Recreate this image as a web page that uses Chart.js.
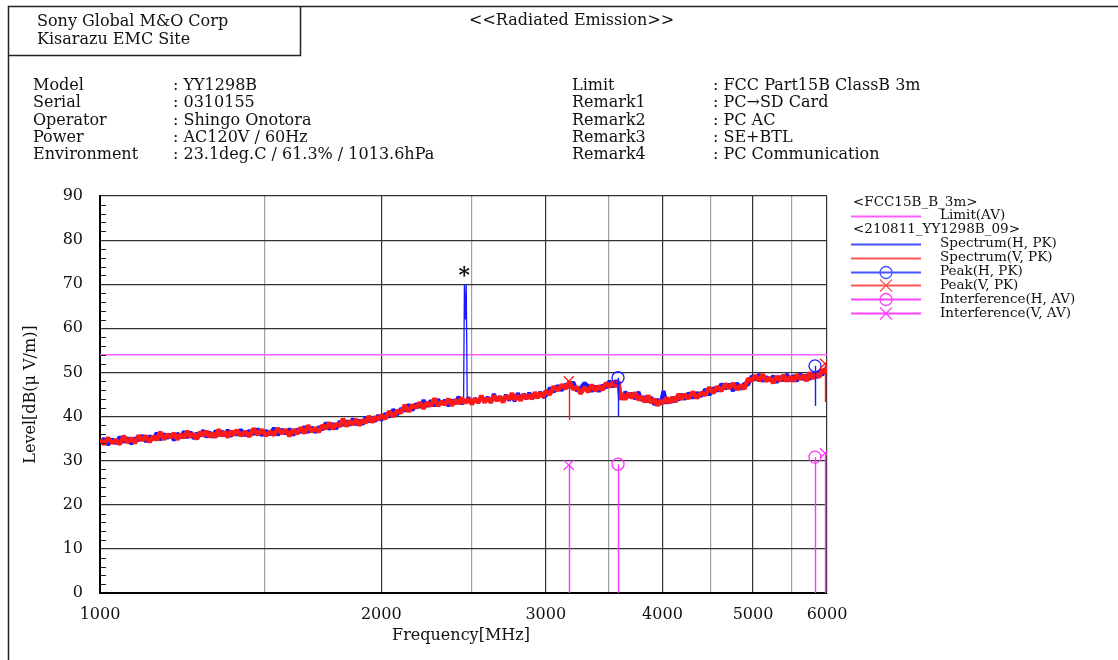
<!DOCTYPE html>
<html>
<head>
<meta charset="utf-8">
<script src="https://cdn.jsdelivr.net/npm/chart.js@4/dist/chart.umd.min.js"></script>
<style>
  html, body { margin: 0; padding: 0; background: #fff; }
  canvas { display: block; }
</style>
</head>
<body>
<canvas id="emiChart" width="1118" height="660"></canvas>
<script>
// sweep frequencies [MHz]
const freqMHz = [
  1000,1010,1020,1030,1040,1050,1060,1070,1080,1090,
  1100,1110,1120,1130,1140,1150,1160,1170,1180,1190,
  1200,1210,1220,1230,1240,1250,1260,1270,1280,1290,
  1300,1310,1320,1330,1340,1350,1360,1370,1380,1390,
  1400,1415,1430,1445,1460,1475,1490,1505,1520,1535,
  1550,1565,1580,1595,1610,1625,1640,1655,1670,1685,
  1700,1715,1730,1745,1760,1775,1790,1805,1820,1835,
  1850,1865,1880,1895,1910,1925,1940,1955,1970,1985,
  2000,2020,2040,2060,2080,2100,2120,2140,2160,2180,
  2200,2220,2240,2260,2280,2300,2320,2340,2360,2380,
  2400,2420,2440,2450,2455,2460,2466,2472,2480,2500,
  2520,2540,2560,2580,2600,2620,2640,2660,2680,2700,
  2720,2740,2760,2780,2800,2820,2840,2860,2880,2900,
  2920,2940,2960,2980,
  3000,3030,3060,3090,3120,3150,3180,3210,3240,3270,
  3300,3330,3360,3390,3420,3450,3480,3510,3540,3570,
  3590,3605,3620,3650,3680,3710,3740,3770,3800,3830,
  3860,3890,3920,3950,3980,4010,4040,4070,4100,4130,
  4160,4190,
  4220,4265,4310,4355,4400,4445,4490,4535,4580,4625,
  4670,4715,4760,4805,4850,4895,4940,4985,5030,5075,
  5120,5165,5210,5255,5300,5345,5390,5435,5480,5525,
  5570,5615,5660,5705,5750,5795,5840,5885,5930,5975,
  6000
];

// Spectrum(H, PK) [dBuV/m]
const levelH = [
  34.0,35.0,33.6,34.9,33.9,35.4,34.2,35.2,33.8,35.1,
  34.6,35.7,34.3,35.6,34.8,36.3,34.7,36.1,35.1,36.0,
  34.6,36.2,35.2,36.6,35.2,36.5,35.0,36.2,35.6,36.9,
  35.3,36.5,35.3,36.8,35.7,36.7,35.6,37.0,35.5,36.6,
  35.8,37.0,35.7,36.8,36.0,37.2,35.7,36.8,35.9,37.4,
  35.8,37.1,36.1,37.2,35.8,37.1,36.4,37.7,36.4,37.6,
  36.4,37.7,37.0,38.6,37.1,38.4,37.2,38.9,38.0,39.0,
  38.0,39.5,38.1,39.2,38.2,39.9,38.8,39.8,38.9,40.3,
  39.2,40.7,39.9,41.6,40.4,41.8,41.3,42.7,41.4,42.9,
  42.1,43.7,42.3,43.6,42.4,43.9,42.8,43.7,42.4,43.7,
  42.9,44.5,42.8,43.6,70.0,62.0,69.8,44.0,44.2,43.2,
  44.1,43.1,44.6,43.5,44.4,43.2,45.1,43.6,44.5,43.5,
  44.9,43.7,44.6,43.5,45.3,44.0,45.0,44.0,45.4,44.0,
  44.9,44.3,45.6,44.4,
  44.7,46.5,45.6,47.0,45.9,47.3,46.7,47.8,45.8,46.5,
  47.6,46.9,45.7,46.9,45.7,47.1,46.5,48.1,46.7,48.2,
  47.2,44.9,43.9,45.6,44.4,45.3,44.0,45.6,43.6,44.5,
  43.4,44.4,42.7,43.9,42.7,45.8,43.0,44.0,43.3,44.4,
  43.7,45.1,
  43.9,45.3,44.2,45.4,44.6,46.2,44.9,46.5,45.8,47.4,
  46.3,47.3,45.8,47.6,46.2,47.5,47.2,49.2,48.3,49.6,
  48.0,49.0,48.2,49.2,47.7,49.1,48.1,49.6,48.1,49.3,
  48.0,49.7,48.4,49.4,48.4,49.9,48.8,50.2,49.4,50.9,
  50.3
];

// Spectrum(V, PK) [dBuV/m]
const levelV = [
  34.8,33.7,35.2,34.0,34.7,33.7,35.6,34.1,35.1,34.0,
  35.7,34.6,35.6,34.2,35.5,34.7,36.5,34.8,35.9,35.3,
  36.2,34.8,36.0,35.2,36.7,35.4,36.1,34.9,36.5,35.6,
  36.7,35.4,36.2,35.3,37.1,35.6,36.5,35.3,36.7,35.8,
  36.9,35.7,36.6,35.5,37.3,35.9,37.0,35.7,36.6,35.8,
  37.3,36.2,37.0,35.6,37.0,36.1,37.5,36.2,38.0,36.6,
  37.4,36.5,38.0,37.3,38.6,37.2,38.4,37.7,39.5,37.8,
  39.0,38.2,39.4,38.0,39.2,38.6,40.1,38.7,39.9,39.3,
  40.3,39.5,41.2,40.0,41.3,40.9,42.6,41.1,42.6,42.0,
  43.2,41.8,43.2,42.4,44.1,42.4,43.4,42.7,44.0,42.5,
  43.8,43.0,44.3,42.9,43.8,42.9,44.0,43.1,44.1,42.8,
  44.0,43.2,44.7,43.2,44.1,43.2,44.7,43.6,44.5,43.2,
  44.7,43.9,45.3,43.8,44.7,43.6,45.1,44.1,44.8,44.0,
  45.5,44.2,45.4,44.5,
  45.8,45.0,46.8,45.9,47.2,46.3,47.9,46.2,46.7,45.2,
  46.6,45.6,47.2,45.8,46.9,46.0,47.6,46.7,47.8,46.8,
  48.0,43.8,45.2,43.9,45.3,44.2,45.4,43.8,44.5,43.3,
  44.8,43.1,44.0,42.5,43.6,43.0,44.3,43.1,44.4,43.3,
  45.1,43.9,
  45.0,44.1,45.6,44.2,45.4,44.9,46.6,45.3,46.8,45.8,
  47.4,46.4,47.5,46.1,47.1,46.3,48.6,48.1,49.3,48.1,
  49.6,48.0,48.8,47.6,49.1,48.1,49.4,48.0,49.1,48.0,
  49.5,48.5,49.4,48.1,50.0,48.6,49.7,48.9,50.7,49.9,
  51.2
];

// Limit(AV)
const limitFreq = [1000, 6000];
const limitLevel = [54, 54];

// Peak markers (level, and foot of the marker line)
const peakHFreq = [3585, 5825];
const peakHLevel = [48.8, 51.5];
const peakHFoot = [40.0, 42.4];
const peakVFreq = [3175, 5970];
const peakVLevel = [48.0, 52.0];
const peakVFoot = [39.2, 43.3];

// Interference markers (stems from 0 dB)
const interfHFreq = [3585, 5825];
const interfHLevel = [29.2, 30.8];
const interfVFreq = [3175, 5970];
const interfVLevel = [29.0, 31.7];

// "*" over the 2.4 GHz carrier
const starFreq = 2460;
const starLevel = 70;

const xTickValues = [1000, 1500, 2000, 2500, 3000, 3500, 4000, 4500, 5000, 5500, 6000];
const xTickLabels = [1000, 2000, 3000, 4000, 5000, 6000];
const yMin = 0, yMax = 90, yStep = 10, yMinorStep = 2;

const headerLeft = [
  ['Model', ': YY1298B'],
  ['Serial', ': 0310155'],
  ['Operator', ': Shingo Onotora'],
  ['Power', ': AC120V / 60Hz'],
  ['Environment', ': 23.1deg.C / 61.3% / 1013.6hPa']
];
const headerRight = [
  ['Limit', ': FCC Part15B ClassB 3m'],
  ['Remark1', ': PC\u2192SD Card'],
  ['Remark2', ': PC AC'],
  ['Remark3', ': SE+BTL'],
  ['Remark4', ': PC Communication']
];

const BLUE = '#1a1aff';
const RED = '#ff1a1a';
const MAGENTA = '#ff33ff';
const FONT = '"DejaVu Serif", "Liberation Serif", serif';

const legendRows = [
  { head: '<FCC15B_B_3m>' },
  { label: 'Limit(AV)', color: '#ff5cff' },
  { head: '<210811_YY1298B_09>' },
  { label: 'Spectrum(H, PK)', color: '#4455ff' },
  { label: 'Spectrum(V, PK)', color: '#ff5555' },
  { label: 'Peak(H, PK)', color: '#4455ff', mark: 'circle' },
  { label: 'Peak(V, PK)', color: '#ff5555', mark: 'x' },
  { label: 'Interference(H, AV)', color: '#ff44ff', mark: 'circle' },
  { label: 'Interference(V, AV)', color: '#ff44ff', mark: 'x' }
];

function pairs(xs, ys) {
  return xs.map((f, i) => ({ x: f, y: ys[i] }));
}

// marker lines: peak lines drop to a foot value, interference stems rise from 0
const stemPlugin = {
  id: 'stems',
  afterDatasetsDraw(chart) {
    const { ctx, scales } = chart;
    chart.data.datasets.forEach(ds => {
      if (!ds.stemFoot) return;
      ctx.save();
      ctx.strokeStyle = ds.stemColor;
      ctx.lineWidth = 1.4;
      ds.data.forEach((p, i) => {
        const px = Math.round(scales.x.getPixelForValue(p.x)) + 0.5;
        ctx.beginPath();
        ctx.moveTo(px, scales.y.getPixelForValue(p.y));
        ctx.lineTo(px, scales.y.getPixelForValue(ds.stemFoot[i]));
        ctx.stroke();
      });
      ctx.restore();
    });
  }
};

function drawMark(ctx, kind, x, y, color) {
  ctx.save();
  ctx.strokeStyle = color;
  ctx.lineWidth = 1.3;
  ctx.beginPath();
  if (kind === 'circle') {
    ctx.arc(x, y, 6, 0, Math.PI * 2);
  } else {
    ctx.moveTo(x - 6, y - 6); ctx.lineTo(x + 6, y + 6);
    ctx.moveTo(x + 6, y - 6); ctx.lineTo(x - 6, y + 6);
  }
  ctx.stroke();
  ctx.restore();
}

const pagePlugin = {
  id: 'page',
  beforeDraw(chart) {
    const ctx = chart.ctx;
    ctx.save();
    ctx.fillStyle = '#fff';
    ctx.fillRect(0, 0, chart.width, chart.height);
    ctx.restore();
  },
  afterDraw(chart) {
    const { ctx, chartArea, scales } = chart;
    ctx.save();
    // frame + title box
    ctx.strokeStyle = '#222';
    ctx.lineWidth = 1.5;
    ctx.beginPath();
    ctx.moveTo(8.5, 660); ctx.lineTo(8.5, 6.5); ctx.lineTo(1118, 6.5);
    ctx.moveTo(8.5, 55.5); ctx.lineTo(300.5, 55.5); ctx.lineTo(300.5, 6.5);
    ctx.stroke();

    ctx.fillStyle = '#111';
    ctx.textBaseline = 'middle';
    ctx.textAlign = 'left';
    ctx.font = '16px ' + FONT;
    ctx.fillText('Sony Global M&O Corp', 37, 22);
    ctx.fillText('Kisarazu EMC Site', 37, 40);
    ctx.fillText('<<Radiated Emission>>', 469, 21);

    headerLeft.forEach((r, i) => {
      const y = 86 + i * 17.3;
      ctx.fillText(r[0], 33, y);
      ctx.fillText(r[1], 173, y);
    });
    headerRight.forEach((r, i) => {
      const y = 86 + i * 17.3;
      ctx.fillText(r[0], 572, y);
      ctx.fillText(r[1], 713, y);
    });

    // axis titles
    ctx.textAlign = 'center';
    ctx.fillText('Frequency[MHz]', 461, 636);
    ctx.save();
    ctx.translate(31, (chartArea.top + chartArea.bottom) / 2);
    ctx.rotate(-Math.PI / 2);
    ctx.fillText('Level[dB(\u03bc V/m)]', 0, 0);
    ctx.restore();

    // minor ticks on the level axis
    ctx.strokeStyle = '#222';
    ctx.lineWidth = 1;
    ctx.beginPath();
    for (let v = yMin + yMinorStep; v < yMax; v += yMinorStep) {
      if (v % yStep === 0) continue;
      const py = Math.round(scales.y.getPixelForValue(v)) + 0.5;
      ctx.moveTo(chartArea.left, py);
      ctx.lineTo(chartArea.left + 6, py);
    }
    ctx.stroke();

    // asterisk over the carrier
    ctx.font = 'bold 22px ' + FONT;
    ctx.fillText('*', scales.x.getPixelForValue(starFreq) - 1, scales.y.getPixelForValue(starLevel) - 8);

    // legend
    ctx.font = '13.5px ' + FONT;
    ctx.textAlign = 'left';
    legendRows.forEach((r, i) => {
      const y = 202 + i * 13.9;
      if (r.head) {
        ctx.fillStyle = '#111';
        ctx.fillText(r.head, 853, y);
        return;
      }
      ctx.strokeStyle = r.color;
      ctx.lineWidth = 2;
      ctx.beginPath();
      ctx.moveTo(851, Math.round(y) + 0.5);
      ctx.lineTo(921, Math.round(y) + 0.5);
      ctx.stroke();
      if (r.mark) drawMark(ctx, r.mark, 886, Math.round(y) + 0.5, r.color);
      ctx.fillStyle = '#111';
      ctx.fillText(r.label, 940, y);
    });
    ctx.restore();
  }
};

// thin line on the narrow carrier, thick noisy band elsewhere
const carrierThin = c => (c.p0.parsed.y > 55 || c.p1.parsed.y > 55) ? 1.3 : undefined;

Chart.defaults.font.family = FONT;
Chart.defaults.color = '#111';

new Chart(document.getElementById('emiChart').getContext('2d'), {
  type: 'line',
  data: {
    datasets: [
      {
        label: 'Interference(V, AV)', data: pairs(interfVFreq, interfVLevel),
        showLine: false, pointStyle: 'crossRot', pointRadius: 7, borderWidth: 1.3,
        borderColor: MAGENTA, backgroundColor: 'transparent',
        stemFoot: interfVFreq.map(() => 0), stemColor: MAGENTA
      },
      {
        label: 'Interference(H, AV)', data: pairs(interfHFreq, interfHLevel),
        showLine: false, pointStyle: 'circle', pointRadius: 6, borderWidth: 1.3,
        borderColor: MAGENTA, backgroundColor: 'transparent',
        stemFoot: interfHFreq.map(() => 0), stemColor: MAGENTA
      },
      {
        label: 'Peak(V, PK)', data: pairs(peakVFreq, peakVLevel),
        showLine: false, pointStyle: 'crossRot', pointRadius: 7, borderWidth: 1.3,
        borderColor: RED, backgroundColor: 'transparent',
        stemFoot: peakVFoot, stemColor: RED
      },
      {
        label: 'Peak(H, PK)', data: pairs(peakHFreq, peakHLevel),
        showLine: false, pointStyle: 'circle', pointRadius: 6, borderWidth: 1.3,
        borderColor: BLUE, backgroundColor: 'transparent',
        stemFoot: peakHFoot, stemColor: BLUE
      },
      {
        label: 'Spectrum(V, PK)', data: pairs(freqMHz, levelV),
        borderColor: RED, borderWidth: 4.5, borderJoinStyle: 'bevel', pointRadius: 0, tension: 0
      },
      {
        label: 'Spectrum(H, PK)', data: pairs(freqMHz, levelH),
        borderColor: BLUE, borderWidth: 4, borderJoinStyle: 'bevel', pointRadius: 0, tension: 0,
        segment: { borderWidth: carrierThin }
      },
      {
        label: 'Limit(AV)', data: pairs(limitFreq, limitLevel),
        borderColor: '#ff5cff', borderWidth: 1.6, pointRadius: 0, tension: 0
      }
    ]
  },
  options: {
    responsive: false,
    animation: false,
    devicePixelRatio: 1,
    layout: { padding: { top: 196, left: 60, right: 291, bottom: 27 } },
    plugins: {
      legend: { display: false },
      tooltip: { enabled: false }
    },
    scales: {
      x: {
        type: 'logarithmic',
        min: 1000,
        max: 6000,
        afterFit: s => { s.height = 40; },
        afterBuildTicks: s => { s.ticks = xTickValues.map(v => ({ value: v })); },
        ticks: {
          autoSkip: false,
          maxRotation: 0,
          padding: 12,
          font: { size: 16 },
          color: '#111',
          callback: v => xTickLabels.includes(v) ? String(v) : ''
        },
        grid: {
          drawTicks: false,
          lineWidth: 1.2,
          color: c => (c.tick && c.tick.value % 1000 === 0) ? '#333' : '#a0a0a0'
        },
        border: { color: '#000', width: 2 }
      },
      y: {
        min: yMin,
        max: yMax,
        afterFit: s => { s.width = 40; },
        ticks: { stepSize: yStep, padding: 17, font: { size: 16 }, color: '#111' },
        grid: { drawTicks: false, lineWidth: 1.2, color: '#333' },
        border: { color: '#000', width: 2 }
      }
    }
  },
  plugins: [pagePlugin, stemPlugin]
});
</script>
</body>
</html>
